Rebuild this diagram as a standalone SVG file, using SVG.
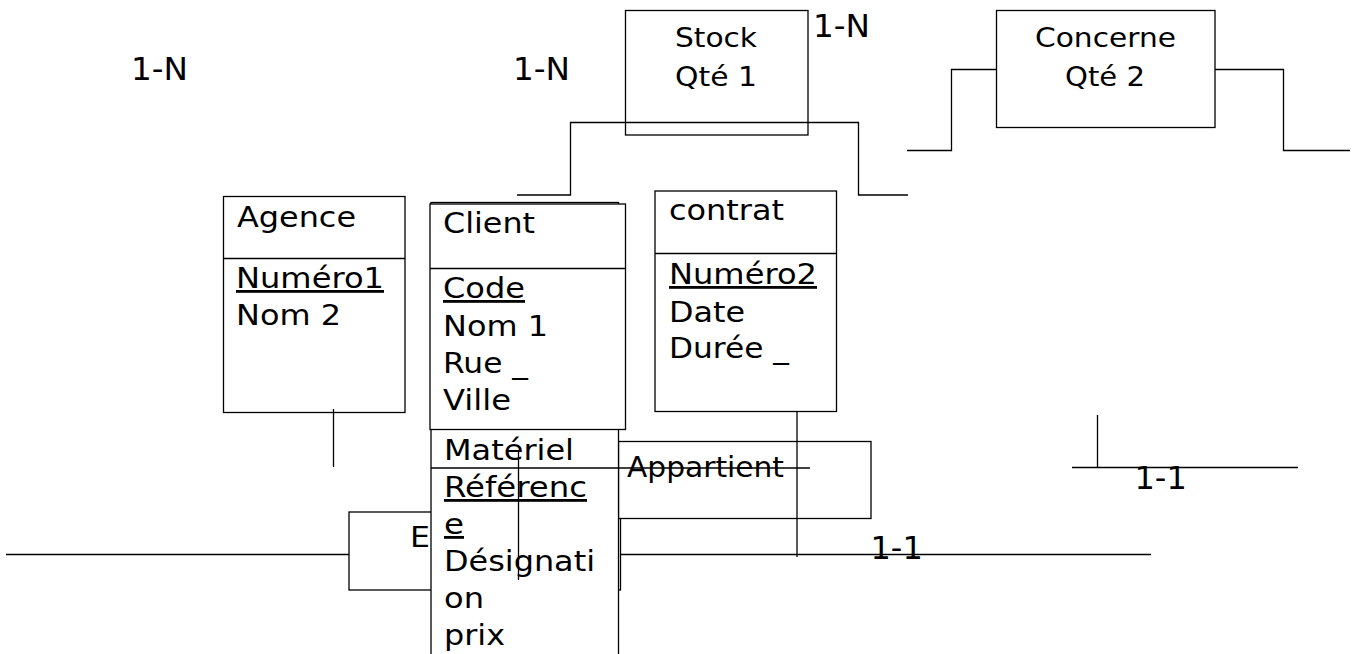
<svg xmlns="http://www.w3.org/2000/svg" width="1354" height="654" viewBox="0 0 1354 654">
<style>
.b{fill:#fff;stroke:#000;stroke-width:1.3}
.l{fill:none;stroke:#000;stroke-width:1.3}
.t{font-family:"DejaVu Sans","Liberation Sans",sans-serif;font-size:28px;fill:#000}
.s{font-size:27px}
.c{font-size:32px}
.u{text-decoration:underline}
</style>
<rect width="1354" height="654" fill="#fff"/>
<g id="stock">
<rect class="b" x="625.5" y="10.5" width="182.5" height="124.5"/>
<text class="t s" x="675" y="47" textLength="82" lengthAdjust="spacingAndGlyphs">Stock</text>
<text class="t s" x="675" y="86" textLength="82" lengthAdjust="spacingAndGlyphs">Qté 1</text>
</g>
<g id="concerne">
<rect class="b" x="996.5" y="10.5" width="218.5" height="117"/>
<text class="t s" x="1035" y="47" textLength="141" lengthAdjust="spacingAndGlyphs">Concerne</text>
<text class="t s" x="1065" y="86" textLength="80" lengthAdjust="spacingAndGlyphs">Qté 2</text>
</g>
<g id="agence">
<rect class="b" x="223.5" y="196.5" width="181.5" height="216"/>
<line class="l" x1="223.5" y1="258.5" x2="405" y2="258.5"/>
<text class="t" x="237" y="227" textLength="119" lengthAdjust="spacingAndGlyphs">Agence</text>
<text class="t u" x="236" y="288" textLength="148" lengthAdjust="spacingAndGlyphs">Numéro1</text>
<text class="t" x="236" y="325" textLength="105" lengthAdjust="spacingAndGlyphs">Nom 2</text>
</g>
<g id="e">
<rect class="b" x="349" y="512" width="271.5" height="78"/>
<text class="t" x="410" y="547" textLength="20" lengthAdjust="spacingAndGlyphs">E</text>
</g>
<g id="appartient">
<rect class="b" x="618.5" y="441.5" width="252.5" height="77"/>
<text class="t" x="627" y="477" textLength="157" lengthAdjust="spacingAndGlyphs">Appartient</text>
</g>
<g id="materiel">
<rect class="b" x="431" y="202.5" width="187.5" height="460"/>
<line class="l" x1="431" y1="468" x2="618.5" y2="468"/>
<text class="t" x="444" y="460" textLength="130" lengthAdjust="spacingAndGlyphs">Matériel</text>
<text class="t u" x="444" y="497" textLength="143" lengthAdjust="spacingAndGlyphs">Référenc</text>
<text class="t u" x="444" y="534" textLength="20" lengthAdjust="spacingAndGlyphs">e</text>
<text class="t" x="444" y="571" textLength="151" lengthAdjust="spacingAndGlyphs">Désignati</text>
<text class="t" x="444" y="608" textLength="40" lengthAdjust="spacingAndGlyphs">on</text>
<text class="t" x="444" y="645" textLength="61" lengthAdjust="spacingAndGlyphs">prix</text>
</g>
<g id="client">
<rect class="b" x="430" y="204" width="195.5" height="225.5"/>
<line class="l" x1="430" y1="268.5" x2="625.5" y2="268.5"/>
<text class="t" x="443" y="233" textLength="92" lengthAdjust="spacingAndGlyphs">Client</text>
<text class="t u" x="443" y="298" textLength="82" lengthAdjust="spacingAndGlyphs">Code</text>
<text class="t" x="443" y="336" textLength="105" lengthAdjust="spacingAndGlyphs">Nom 1</text>
<text class="t" x="443" y="373" textLength="85" lengthAdjust="spacingAndGlyphs">Rue _</text>
<text class="t" x="443" y="410" textLength="68" lengthAdjust="spacingAndGlyphs">Ville</text>
</g>
<g id="contrat">
<rect class="b" x="655" y="191" width="181.5" height="220.5"/>
<line class="l" x1="655" y1="253.5" x2="836.5" y2="253.5"/>
<text class="t" x="669" y="220" textLength="115" lengthAdjust="spacingAndGlyphs">contrat</text>
<text class="t u" x="669" y="284" textLength="148" lengthAdjust="spacingAndGlyphs">Numéro2</text>
<text class="t" x="669" y="322" textLength="76" lengthAdjust="spacingAndGlyphs">Date</text>
<text class="t" x="669" y="358" textLength="120" lengthAdjust="spacingAndGlyphs">Durée _</text>
</g>
<g id="connectors">
<polyline class="l" points="517,195 570.5,195 570.5,122.5 858.5,122.5 858.5,195 908,195"/>
<polyline class="l" points="996.5,69.5 951.5,69.5 951.5,150.5 907,150.5"/>
<polyline class="l" points="1215,69.5 1283.5,69.5 1283.5,150.5 1350,150.5"/>
<line class="l" x1="333.5" y1="409" x2="333.5" y2="467"/>
<line class="l" x1="797" y1="411" x2="797" y2="557"/>
<line class="l" x1="618.5" y1="468" x2="810" y2="468"/>
<line class="l" x1="518.5" y1="450" x2="518.5" y2="580"/>
<line class="l" x1="6" y1="554.5" x2="349" y2="554.5"/>
<line class="l" x1="620.5" y1="554.5" x2="1151" y2="554.5"/>
<line class="l" x1="1097.5" y1="415" x2="1097.5" y2="467"/>
<line class="l" x1="1072" y1="467.5" x2="1298" y2="467.5"/>
<text class="t c" x="131" y="80" textLength="57" lengthAdjust="spacingAndGlyphs">1-N</text>
<text class="t c" x="513" y="80" textLength="57" lengthAdjust="spacingAndGlyphs">1-N</text>
<text class="t c" x="813" y="37" textLength="57" lengthAdjust="spacingAndGlyphs">1-N</text>
<text class="t c" x="870.5" y="559">1-1</text>
<text class="t c" x="1134.5" y="489">1-1</text>
</g>
</svg>
